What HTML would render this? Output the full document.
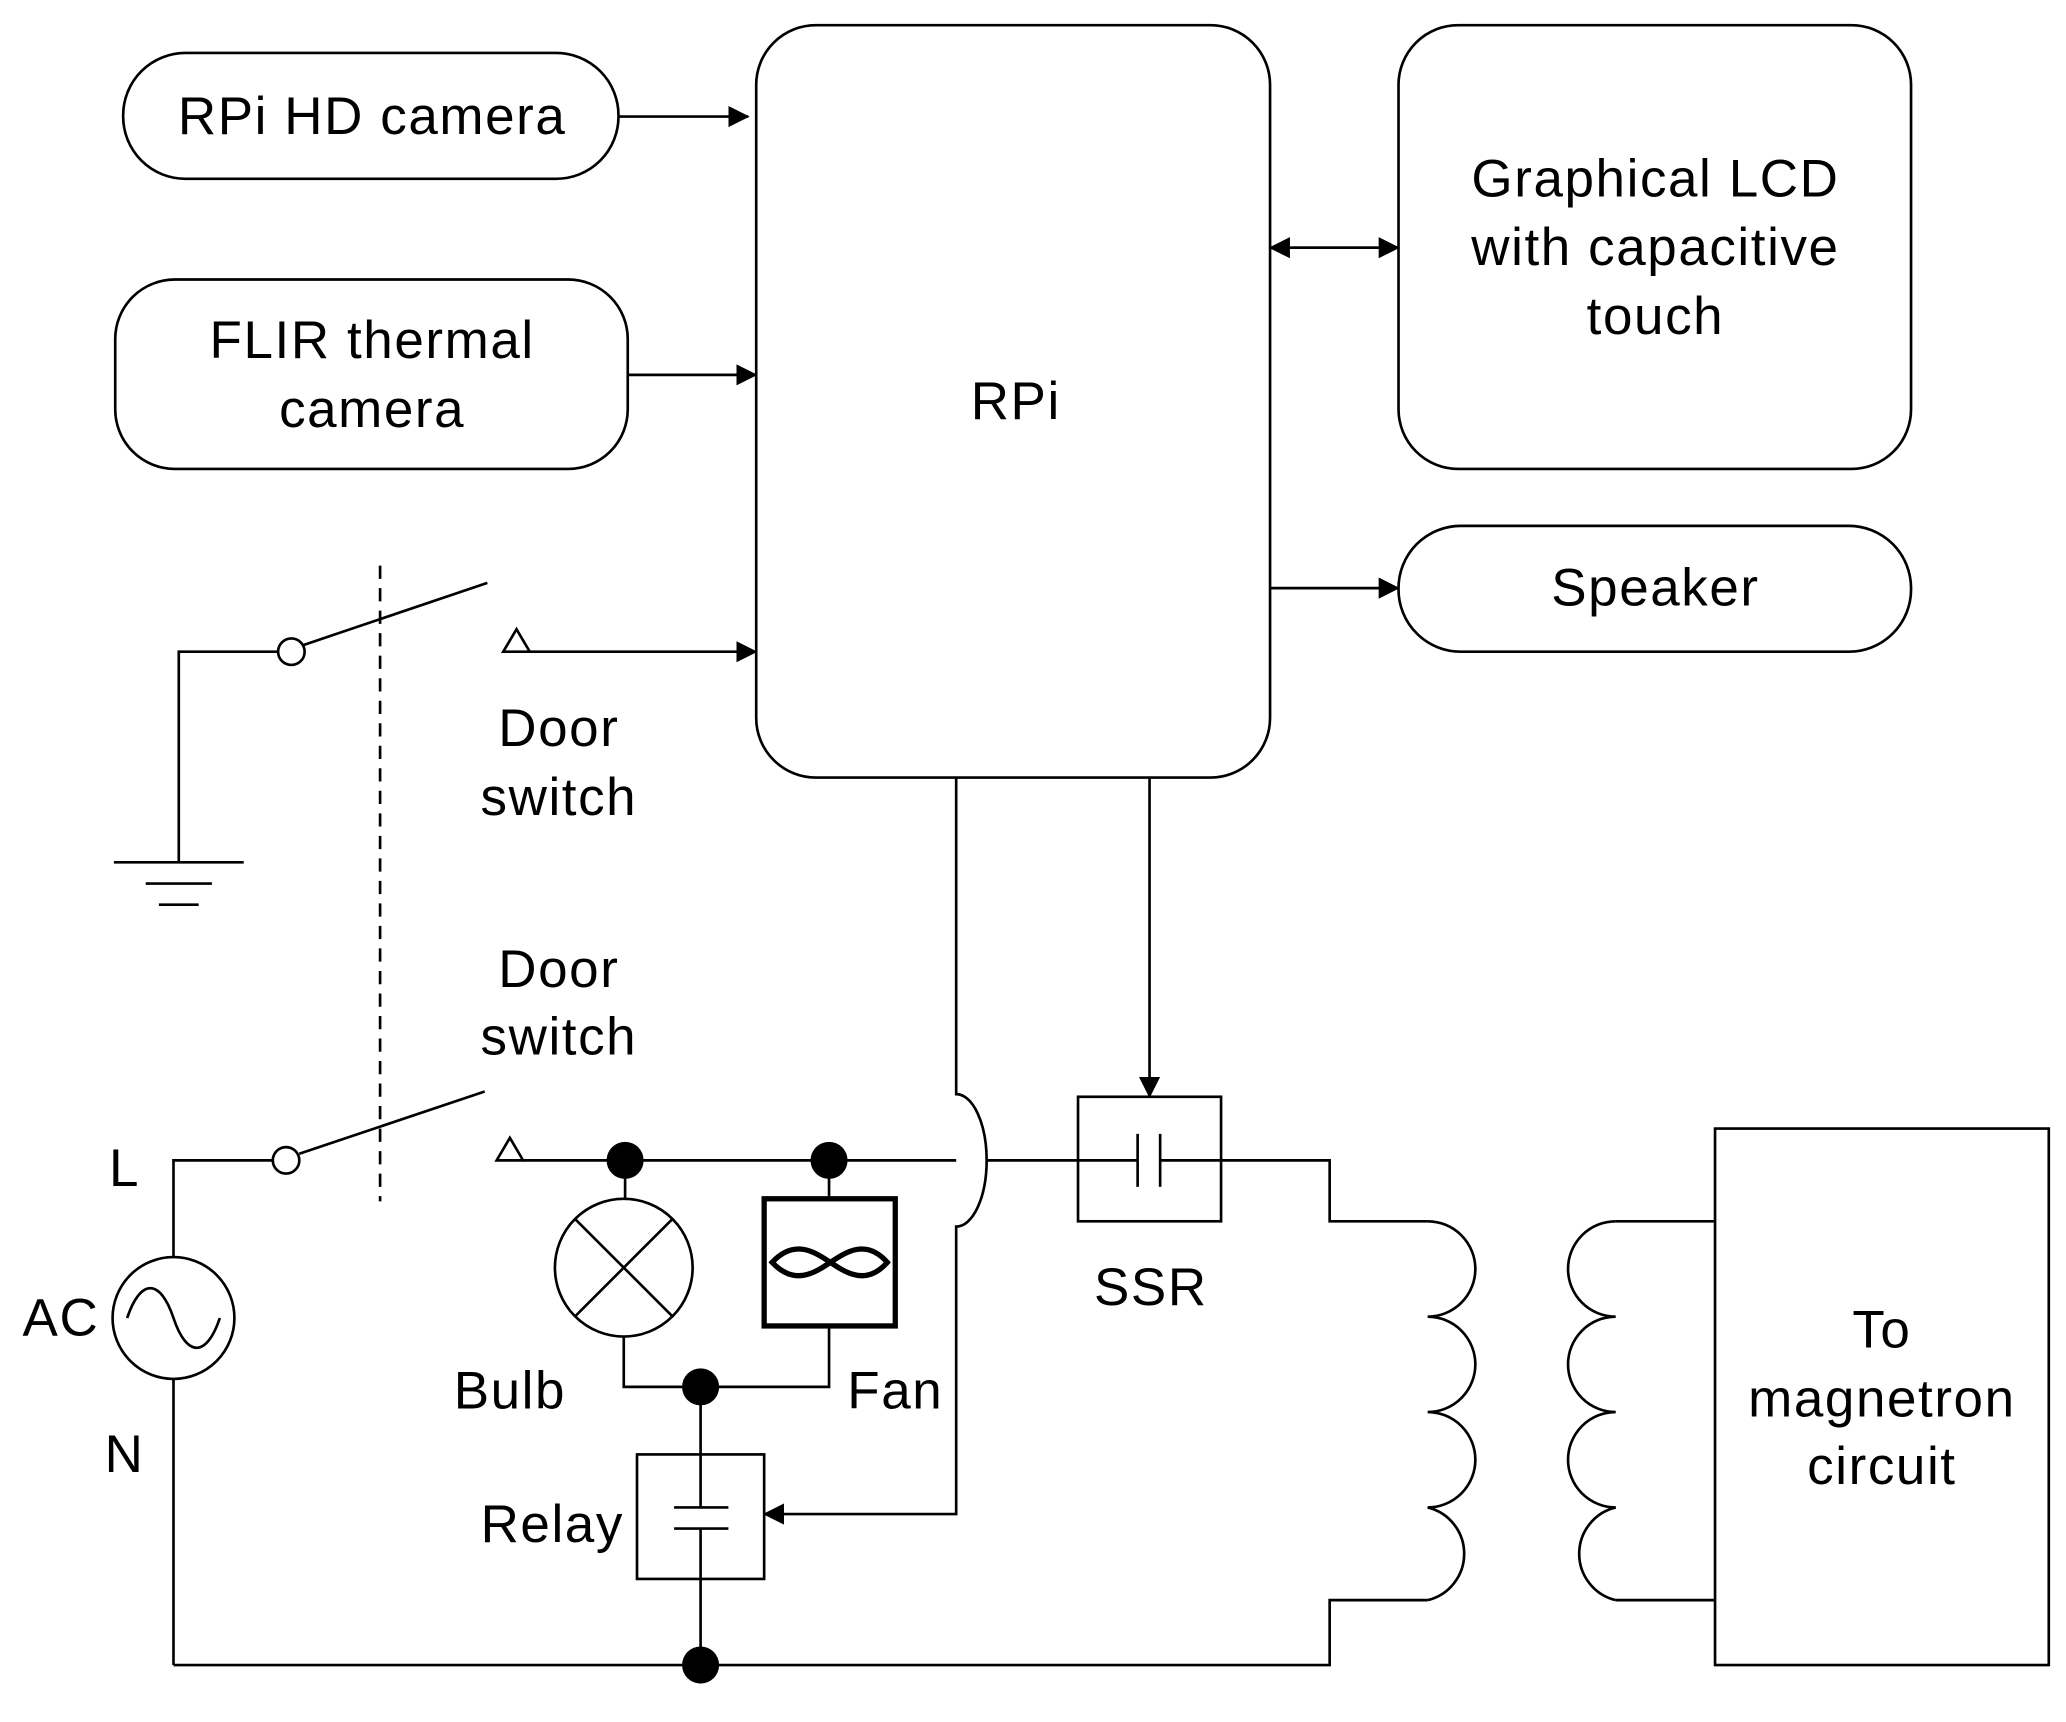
<!DOCTYPE html>
<html><head><meta charset="utf-8"><style>
html,body{margin:0;padding:0;background:#fff;}
svg{display:block;}
text{font-family:"Liberation Sans",Arial,sans-serif;font-size:40px;letter-spacing:1.2px;fill:#000;text-anchor:middle;dominant-baseline:central;}
</style></head><body>
<svg width="2066" height="1722" viewBox="0 0 1560 1300" preserveAspectRatio="none" xmlns="http://www.w3.org/2000/svg">
<defs>
<marker id="b" markerWidth="16" markerHeight="16" refX="15" refY="8" orient="auto" markerUnits="userSpaceOnUse"><path d="M0,0 L16,8 L0,16 z" fill="#000"/></marker>
</defs>
<g fill="none" stroke="#000" stroke-width="2">
<rect x="93" y="40" width="374" height="95" rx="47"/>
<rect x="87" y="211" width="387" height="143" rx="45"/>
<rect x="571" y="19" width="388" height="568" rx="45"/>
<rect x="1056" y="19" width="387" height="335" rx="45"/>
<rect x="1056" y="397" width="387" height="95" rx="47"/>
<line x1="467" y1="88" x2="565" y2="88" marker-end="url(#b)"/>
<line x1="474" y1="283" x2="571" y2="283" marker-end="url(#b)"/>
<line x1="975" y1="187" x2="1056" y2="187" marker-end="url(#b)"/>
<line x1="1040" y1="187" x2="959" y2="187" marker-end="url(#b)"/>
<line x1="959" y1="444" x2="1056" y2="444" marker-end="url(#b)"/>
<circle cx="220" cy="492" r="10"/>
<polyline points="210,492 135,492 135,651"/>
<line x1="86" y1="651" x2="184" y2="651"/>
<line x1="110" y1="667" x2="160" y2="667"/>
<line x1="120" y1="683" x2="150" y2="683"/>
<line x1="229" y1="487" x2="368" y2="440"/>
<path d="M380,492 L390,475 L400,492 z"/>
<line x1="400" y1="492" x2="571" y2="492" marker-end="url(#b)"/>
<line x1="287" y1="427" x2="287" y2="907" stroke-dasharray="10,7"/>
<circle cx="216" cy="876" r="10"/>
<polyline points="206,876 131,876 131,949"/>
<line x1="131" y1="1041" x2="131" y2="1257"/>
<line x1="226" y1="871" x2="366" y2="824"/>
<path d="M375,876 L385,859 L395,876 z"/>
<line x1="395" y1="876" x2="722" y2="876"/>
<line x1="745" y1="876" x2="859" y2="876"/>
<circle cx="131" cy="995" r="46"/>
<path d="M96,995 C106,965 121,965 131,995 C141,1025 156,1025 166,995"/>
<rect x="814" y="828" width="108" height="94"/>
<line x1="859" y1="856" x2="859" y2="896"/>
<line x1="876" y1="856" x2="876" y2="896"/>
<polyline points="876,876 1004,876 1004,922 1078,922"/>
<line x1="868" y1="587" x2="868" y2="828" marker-end="url(#b)"/>
<path d="M1078,922 a36,36 0 0 1 0,72 a36,36 0 0 1 0,72 a36,36 0 0 1 0,72 a36,36 0 0 1 0,70"/>
<polyline points="1078,1208 1004,1208 1004,1257 131,1257"/>
<path d="M1220,922 a36,36 0 0 0 0,72 a36,36 0 0 0 0,72 a36,36 0 0 0 0,72 a36,36 0 0 0 0,70"/>
<line x1="1220" y1="922" x2="1295" y2="922"/>
<line x1="1220" y1="1208" x2="1295" y2="1208"/>
<rect x="1295" y="852" width="252" height="405"/>
<line x1="472" y1="876" x2="472" y2="905"/>
<circle cx="471" cy="957" r="52"/>
<line x1="434" y1="920" x2="508" y2="994"/>
<line x1="508" y1="920" x2="434" y2="994"/>
<polyline points="471,1009 471,1047 626,1047 626,1001"/>
<line x1="626" y1="876" x2="626" y2="905"/>
<rect x="577" y="905" width="99" height="96" stroke-width="4"/>
<path d="M583,953 C600,935 615,945 627,953 C639,961 654,971 670,953 C654,935 639,945 627,953 C615,961 600,971 583,953 z" stroke-width="4"/>
<line x1="529" y1="1047" x2="529" y2="1098"/>
<rect x="481" y="1098" width="96" height="94"/>
<line x1="529" y1="1098" x2="529" y2="1138"/>
<line x1="509" y1="1138" x2="550" y2="1138"/>
<line x1="509" y1="1154" x2="550" y2="1154"/>
<line x1="529" y1="1154" x2="529" y2="1257"/>
<path d="M722,587 L722,826 A23,50 0 0 1 722,926 L722,1143 L577,1143" marker-end="url(#b)"/>
</g>
<g fill="#000">
<circle cx="472" cy="876" r="14"/>
<circle cx="626" cy="876" r="14"/>
<circle cx="529" cy="1047" r="14"/>
<circle cx="529" cy="1257" r="14"/>
</g>
<text x="281" y="88">RPi HD camera</text>
<text x="281" y="257">FLIR thermal</text>
<text x="281" y="309">camera</text>
<text x="767" y="303">RPi</text>
<text x="1250" y="135">Graphical LCD</text>
<text x="1250" y="187">with capacitive</text>
<text x="1250" y="239">touch</text>
<text x="1250" y="444">Speaker</text>
<text x="422" y="550">Door</text>
<text x="422" y="602">switch</text>
<text x="422" y="732">Door</text>
<text x="422" y="783">switch</text>
<text x="94" y="882">L</text>
<text x="46" y="995">AC</text>
<text x="94" y="1098">N</text>
<text x="385" y="1050">Bulb</text>
<text x="676" y="1050">Fan</text>
<text x="417" y="1151">Relay</text>
<text x="869" y="972">SSR</text>
<text x="1421" y="1004">To</text>
<text x="1421" y="1056">magnetron</text>
<text x="1421" y="1107">circuit</text>
</svg>
</body></html>
